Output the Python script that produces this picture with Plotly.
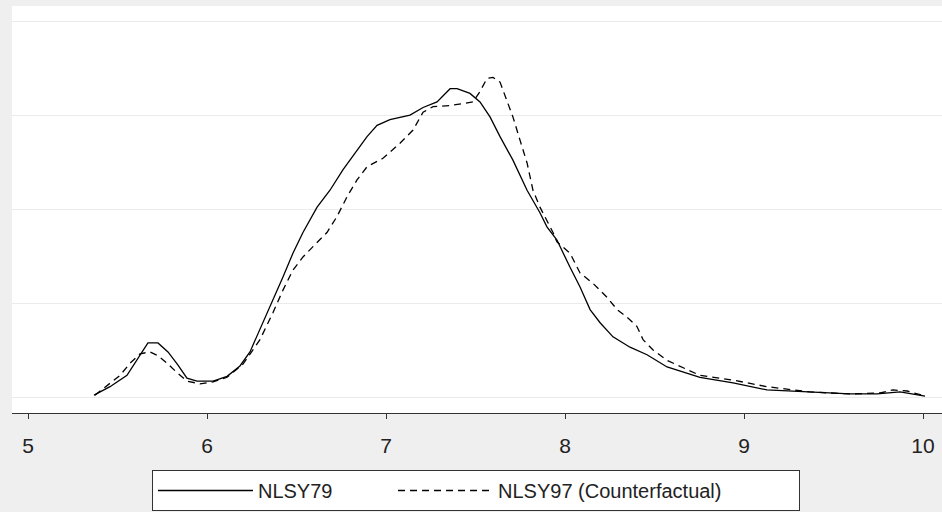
import plotly.graph_objects as go

# NLSY79 density (solid)
x79 = [5.369, 5.458, 5.553, 5.609, 5.670, 5.726, 5.782, 5.838, 5.888, 5.944, 6.034, 6.112,
       6.184, 6.240, 6.313, 6.369, 6.425, 6.480, 6.536, 6.615, 6.687, 6.760, 6.838, 6.894,
       6.950, 7.022, 7.134, 7.207, 7.285, 7.358, 7.397, 7.469, 7.525, 7.581, 7.637, 7.709,
       7.788, 7.860, 7.899, 7.955, 8.028, 8.084, 8.140, 8.196, 8.268, 8.363, 8.458, 8.531,
       8.570, 8.754, 8.939, 9.128, 9.369, 9.592, 9.743, 9.872, 10.011]
y79 = [0.003, 0.012, 0.024, 0.040, 0.0585, 0.0585, 0.049, 0.035, 0.021, 0.018, 0.018, 0.023,
       0.034, 0.049, 0.080, 0.104, 0.129, 0.154, 0.176, 0.203, 0.221, 0.243, 0.264, 0.278,
       0.290, 0.296, 0.301, 0.309, 0.315, 0.329, 0.329, 0.324, 0.315, 0.299, 0.278, 0.253,
       0.221, 0.197, 0.182, 0.168, 0.139, 0.118, 0.094, 0.080, 0.065, 0.054, 0.046, 0.037,
       0.033, 0.022, 0.016, 0.0085, 0.0064, 0.0043, 0.0043, 0.0064, 0.002]

# NLSY97 counterfactual density (dashed)
x97 = [5.374, 5.458, 5.514, 5.570, 5.626, 5.682, 5.726, 5.777, 5.832, 5.888, 5.961, 6.034,
       6.112, 6.201, 6.296, 6.369, 6.425, 6.480, 6.536, 6.592, 6.670, 6.726, 6.782, 6.838,
       6.894, 6.983, 7.078, 7.151, 7.207, 7.263, 7.358, 7.486, 7.525, 7.564, 7.598, 7.637,
       7.676, 7.709, 7.749, 7.788, 7.821, 7.860, 7.933, 7.955, 8.028, 8.084, 8.156, 8.235,
       8.291, 8.346, 8.402, 8.436, 8.492, 8.570, 8.754, 8.939, 9.128, 9.369, 9.592, 9.760,
       9.832, 9.911, 10.011]
y97 = [0.003, 0.016, 0.024, 0.037, 0.047, 0.049, 0.045, 0.037, 0.027, 0.018, 0.015, 0.017,
       0.022, 0.036, 0.062, 0.091, 0.115, 0.136, 0.150, 0.161, 0.176, 0.193, 0.214, 0.232,
       0.246, 0.255, 0.271, 0.285, 0.304, 0.310, 0.311, 0.315, 0.326, 0.340, 0.341, 0.336,
       0.317, 0.299, 0.274, 0.250, 0.221, 0.203, 0.176, 0.166, 0.154, 0.133, 0.122, 0.107,
       0.094, 0.086, 0.076, 0.062, 0.051, 0.040, 0.024, 0.019, 0.012, 0.0064, 0.0043, 0.0053,
       0.0085, 0.0074, 0.002]

x_ticks = [5, 6, 7, 8, 9, 10]
y_grid = [0, 0.1, 0.2, 0.3, 0.4]
series_names = ["NLSY79", "NLSY97 (Counterfactual)"]

NB = "\u00a0"
fig = go.Figure()
fig.add_trace(go.Scatter(x=x79, y=y79, mode="lines", name=series_names[0] + NB * 10,
                         line=dict(color="black", width=1.3)))
fig.add_trace(go.Scatter(x=x97, y=y97, mode="lines", name=series_names[1] + NB * 13,
                         line=dict(color="black", width=1.3, dash="7px,5px")))

fig.update_layout(
    width=942, height=512,
    margin=dict(l=12, r=0, t=6, b=99),
    paper_bgcolor="#efefef", plot_bgcolor="white",
    font=dict(family="Liberation Sans, Arial, sans-serif", size=16, color="#222"),
    showlegend=True,
    legend=dict(orientation="h", x=0.1505, y=-0.14, xanchor="left", yanchor="top",
                bgcolor="white", bordercolor="#333", borderwidth=1,
                itemwidth=95, font=dict(size=20, color="#222"),
                traceorder="normal"),
    xaxis=dict(range=[4.9106, 10.106], tickvals=x_ticks, ticks="outside", ticklen=5,
               tickcolor="#333", showline=True, linecolor="#333", linewidth=1,
               showgrid=False, zeroline=False, ticklabelstandoff=9,
               tickfont=dict(size=21, color="#222")),
    yaxis=dict(range=[-0.016, 0.417], tickvals=y_grid, showticklabels=False,
               showgrid=True, gridcolor="#ebebeb", gridwidth=1, zeroline=False,
               showline=False),
)

fig.write_html("out.html", config={"displayModeBar": False},
               post_script="document.body.style.margin='0px';")
